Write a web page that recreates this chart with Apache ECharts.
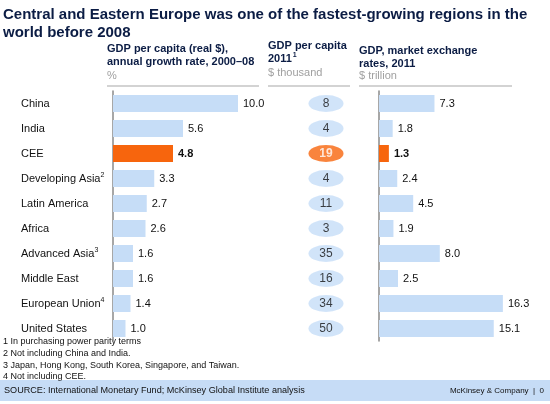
<!DOCTYPE html>
<html><head><meta charset="utf-8">
<script src="https://cdn.jsdelivr.net/npm/echarts@6/dist/echarts.min.js"></script>
<style>html,body{margin:0;padding:0;background:#fff}#c{width:550px;height:404px}</style>
</head><body><div id="c"></div>
<script>
var regions = ['China','India','CEE','Developing Asia','Latin America','Africa','Advanced Asia','Middle East','European Union','United States'];
var regionNotes = ['','','','2','','','3','','4',''];
var growthRate = [10.0,5.6,4.8,3.3,2.7,2.6,1.6,1.6,1.4,1.0];
var gdpPerCapita = [8,4,19,4,11,3,35,16,34,50];
var gdpMarket = [7.3,1.8,1.3,2.4,4.5,1.9,8.0,2.5,16.3,15.1];
var highlight = 'CEE';
var footnotes = ['1 In purchasing power parity terms','2 Not including China and India.','3 Japan, Hong Kong, South Korea, Singapore, and Taiwan.','4 Not including CEE.'];

var BLUE = '#c6ddf7', ORANGE = '#f7650d', NAVY = '#0b1c44', FONT = 'Liberation Sans, Arial, sans-serif';
var chart = echarts.init(document.getElementById('c'));

function barData(arr){
  return arr.map(function(v,i){
    var hl = regions[i] === highlight;
    return {value:v, itemStyle:{color: hl?ORANGE:BLUE}, label:{fontWeight: hl?'bold':'normal'}};
  });
}
var catAxisBase = {type:'category', data:regions, inverse:true, axisTick:{show:false}};
var TOP = 91, H = 250;

var option = {
  animation:false,
  textStyle:{fontFamily:FONT},
  grid:[
    {left:113, top:TOP, width:125, height:H},
    {left:309, top:TOP, width:34, height:H},
    {left:379, top:TOP, width:152, height:H}
  ],
  xAxis:[
    {gridIndex:0, type:'value', min:0, max:10, show:false},
    {gridIndex:1, type:'value', min:-1, max:1, show:false},
    {gridIndex:2, type:'value', min:0, max:20, show:false}
  ],
  yAxis:[
    Object.assign({gridIndex:0, axisLine:{show:true, lineStyle:{color:'#8a8a8a', width:1.5}},
      axisLabel:{align:'left', margin:92, color:'#111', fontSize:11, fontFamily:FONT,
        formatter:function(v){var i=regions.indexOf(v);return '{n|'+v+'}'+(regionNotes[i]?'{s|'+regionNotes[i]+'}':'');},
        rich:{n:{fontSize:11, color:'#111', fontFamily:FONT}, s:{fontSize:7, color:'#111', verticalAlign:'top', padding:[0,0,6,0], fontFamily:FONT}}}}, catAxisBase),
    Object.assign({gridIndex:1, show:false}, catAxisBase),
    Object.assign({gridIndex:2, axisLine:{show:true, lineStyle:{color:'#8a8a8a', width:1.5}}, axisLabel:{show:false}}, catAxisBase)
  ],
  series:[
    {type:'bar', xAxisIndex:0, yAxisIndex:0, barWidth:17, data:barData(growthRate),
      label:{show:true, position:'right', distance:5, color:'#111', fontSize:11, fontFamily:FONT, formatter:function(p){return p.value.toFixed(1);}}},
    {type:'scatter', xAxisIndex:1, yAxisIndex:1, symbol:'circle', symbolSize:[35,17],
      data: gdpPerCapita.map(function(v,i){var hl=regions[i]===highlight;return {value:[0,regions[i]], itemStyle:{color:hl?ORANGE:BLUE}, label:{color:hl?'#fff':'#111', fontWeight:hl?'bold':'normal'}};}),
      label:{show:true, position:'inside', fontSize:12, fontFamily:FONT, formatter:function(p){return String(gdpPerCapita[p.dataIndex]);}}},
    {type:'bar', xAxisIndex:2, yAxisIndex:2, barWidth:17, data:barData(gdpMarket),
      label:{show:true, position:'right', distance:5, color:'#111', fontSize:11, fontFamily:FONT, formatter:function(p){return p.value.toFixed(1);}}}
  ],
  graphic:[
    {type:'text', left:3, top:6, style:{text:'Central and Eastern Europe was one of the fastest-growing regions in the\nworld before 2008', font:'bold 15px '+FONT, fill:NAVY, lineHeight:18}},
    {type:'text', left:107, top:42, style:{text:'GDP per capita (real $),\nannual growth rate, 2000–08', font:'bold 11px '+FONT, fill:NAVY, lineHeight:13}},
    {type:'text', left:107, top:70, style:{text:'%', font:'11px '+FONT, fill:'#a0a0a0'}},
    {type:'text', left:268, top:40, style:{text:'{b|GDP per capita}\n{b|2011}{s|1}', rich:{b:{font:'bold 11px '+FONT, fill:NAVY, lineHeight:13}, s:{font:'bold 7px '+FONT, fill:NAVY, verticalAlign:'top', padding:[0,0,5,1]}}}},
    {type:'text', left:268, top:67, style:{text:'$ thousand', font:'11px '+FONT, fill:'#a0a0a0'}},
    {type:'text', left:359, top:44, style:{text:'GDP, market exchange\nrates, 2011', font:'bold 11px '+FONT, fill:NAVY, lineHeight:13}},
    {type:'text', left:359, top:70, style:{text:'$ trillion', font:'11px '+FONT, fill:'#a0a0a0'}},
    {type:'line', shape:{x1:107, y1:86, x2:259, y2:86}, style:{stroke:'#c4c4c4', lineWidth:1.5}},
    {type:'line', shape:{x1:268, y1:86, x2:350, y2:86}, style:{stroke:'#c4c4c4', lineWidth:1.5}},
    {type:'line', shape:{x1:359, y1:86, x2:512, y2:86}, style:{stroke:'#c4c4c4', lineWidth:1.5}},
    {type:'text', left:3, top:336, style:{text:footnotes.join('\n'), font:'9px '+FONT, fill:'#111', lineHeight:11.7}},
    {type:'rect', shape:{x:0, y:380, width:550, height:21}, style:{fill:'#c6dcf6'}, z:-1},
    {type:'text', left:4, top:386, style:{text:'SOURCE: International Monetary Fund; McKinsey Global Institute analysis', font:'9.1px '+FONT, fill:'#111'}},
    {type:'text', right:6, top:387, style:{text:'McKinsey & Company  |  0', font:'8px '+FONT, fill:'#111'}}
  ]
};
chart.setOption(option);
</script></body></html>
